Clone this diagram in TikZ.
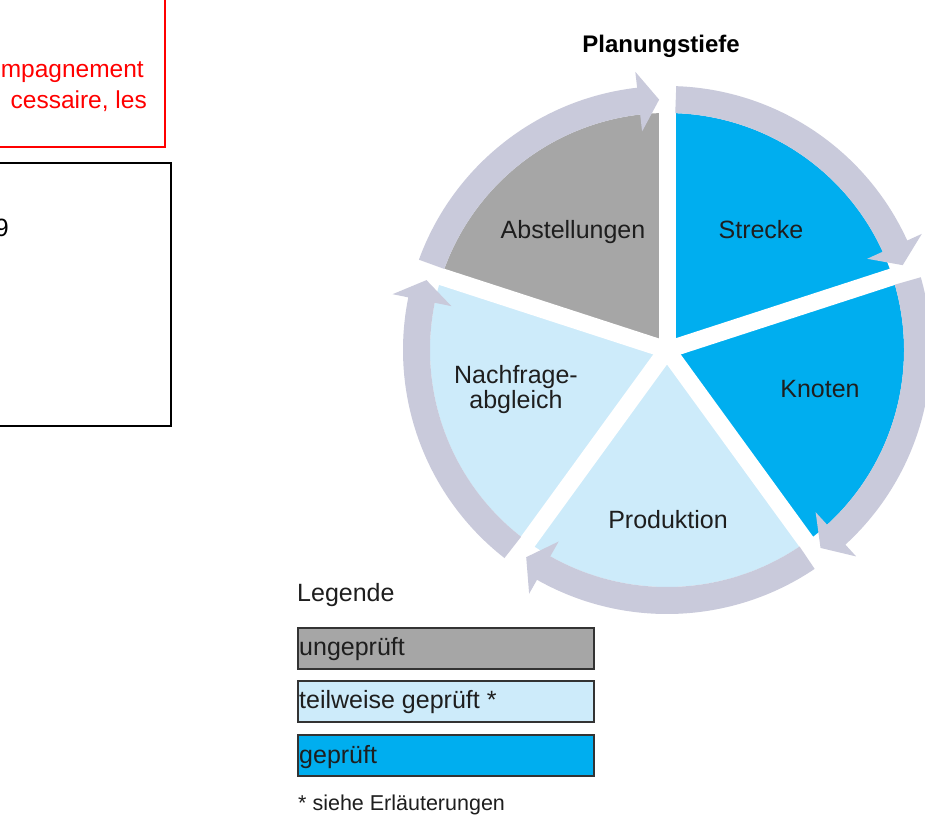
\documentclass[tikz,border=0pt]{standalone}
\usepackage{fontspec}
\setmainfont{Liberation Sans}
\definecolor{graysec}{HTML}{A6A6A6}
\definecolor{bluesec}{HTML}{00AEEF}
\definecolor{lightsec}{HTML}{CDEBFA}
\definecolor{ringcol}{HTML}{C9CADB}
\definecolor{txtcol}{HTML}{1E1E1E}
\definecolor{redcol}{HTML}{FF0000}
\newcommand{\ringarrow}[3]{%
  \fill[ringcol] (#1:264pt) arc[start angle=#1, end angle=#2, radius=264pt]
    -- (#2:280pt) -- (#3:250.5pt) -- (#2:220pt) -- (#2:237pt)
    arc[start angle=#2, end angle=#1, radius=237pt] -- cycle;}
\begin{document}
\begin{tikzpicture}[x=1pt,y=1pt,
  lbl/.style={inner sep=0pt, text=txtcol, font=\fontsize{25}{25}\selectfont},
  ttl/.style={inner sep=0pt, text=black, font=\fontsize{24}{24}\selectfont\bfseries},
  legbox/.style={draw=black!80, line width=2pt, minimum width=296pt, minimum height=41pt, inner sep=0pt, anchor=north west},
  redtxt/.style={inner sep=0pt, text=redcol, font=\fontsize{24.5}{24.5}\selectfont}]
\useasboundingbox (0,0) rectangle (925,-833);
\clip (0,0) rectangle (925,-833);
\fill[white] (0,0) rectangle (925,-833);

% top-left boxes
\draw[redcol, line width=2pt] (-20,20) rectangle (165,-147);
\node[redtxt, anchor=base east] (r1) at (144,-77) {mpagnement};
\node[redtxt, anchor=base east] (r2) at (147,-108) {cessaire, les};
\draw[black, line width=2pt] (-20,-163) rectangle (171,-426);
\node[lbl, text=black, anchor=base east] (n9) at (9,-236) {9};

% pie
\begin{scope}[shift={(667,-350)}]
  \fill[graysec] (0,0) -- (90:237pt) arc[start angle=90, end angle=162, radius=237pt] -- cycle;
  \fill[bluesec] (0,0) -- (18:237pt) arc[start angle=18, end angle=90, radius=237pt] -- cycle;
  \fill[bluesec] (0,0) -- (-54:237pt) arc[start angle=-54, end angle=18, radius=237pt] -- cycle;
  \fill[lightsec] (0,0) -- (-126:237pt) arc[start angle=-126, end angle=-54, radius=237pt] -- cycle;
  \fill[lightsec] (0,0) -- (162:237pt) arc[start angle=162, end angle=234, radius=237pt] -- cycle;
  \foreach \a in {90,18,-54,-126,162}
    \draw[white, line width=17pt] (0,0) -- (\a:295pt);
  \ringarrow{160}{96.5}{91.8}
  \ringarrow{88}{24.5}{19.8}
  \ringarrow{16}{-47.5}{-52.2}
  \ringarrow{-56}{-119.5}{-124.2}
  \ringarrow{232}{168.5}{163.8}
\end{scope}

\node[ttl, anchor=base] (title) at (661,-52) {Planungstiefe};
\node[lbl, anchor=base] (abst) at (573,-238) {Abstellungen};
\node[lbl, anchor=base] (str) at (761,-238) {Strecke};
\node[lbl, anchor=base] (kn) at (820,-397) {Knoten};
\node[lbl, anchor=base] (prod) at (668,-528) {Produktion};
\node[lbl, anchor=base] (nach1) at (516,-383) {Nachfrage-};
\node[lbl, anchor=base] (nach2) at (516,-408) {abgleich};

% legend
\node[lbl, anchor=base west] (leg) at (297,-601) {Legende};
\node[legbox, fill=graysec] (b1) at (297,-627) {};
\node[legbox, fill=lightsec] (b2) at (297,-680) {};
\node[legbox, fill=bluesec] (b3) at (297,-734) {};
\node[lbl, anchor=base west] (t1) at (299,-655) {ungeprüft};
\node[lbl, anchor=base west] (t2) at (299,-708) {teilweise geprüft *};
\node[lbl, anchor=base west] (t3) at (299,-763) {geprüft};
\node[inner sep=0pt, text=txtcol, font=\fontsize{21.5}{21.5}\selectfont, anchor=base west] (note) at (298,-810) {* siehe Erläuterungen};
\end{tikzpicture}
\end{document}
